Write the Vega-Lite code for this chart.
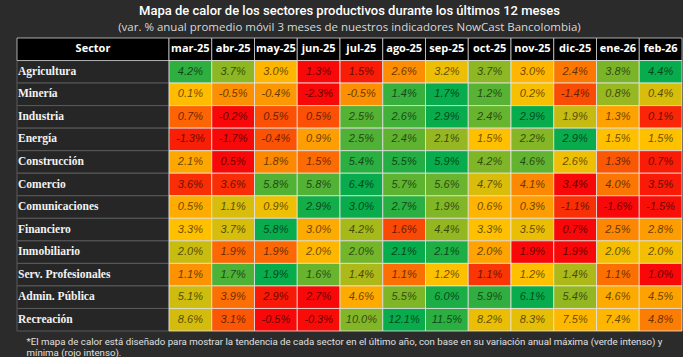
{
  "$schema": "https://vega.github.io/schema/vega-lite/v6.json",
  "background": "#2b2b2b",
  "padding": {"left": 16, "top": 5, "right": 0, "bottom": 0},
  "title": {
    "text": "Mapa de calor de los sectores productivos durante los últimos 12 meses",
    "subtitle": "(var. % anual promedio móvil 3 meses de nuestros indicadores NowCast Bancolombia)",
    "anchor": "middle",
    "font": "Roboto",
    "fontSize": 13,
    "fontWeight": 500,
    "color": "#ffffff",
    "subtitleFont": "Open Sans",
    "subtitleFontSize": 11.5,
    "subtitleColor": "#d9d9d9",
    "subtitlePadding": 4,
    "offset": 4
  },
  "datasets": {
    "head": [{"s": "Sector"}],
    "sectors": [
      {"s": "Agricultura"}, {"s": "Minería"}, {"s": "Industria"}, {"s": "Energía"},
      {"s": "Construcción"}, {"s": "Comercio"}, {"s": "Comunicaciones"}, {"s": "Financiero"},
      {"s": "Inmobiliario"}, {"s": "Serv. Profesionales"}, {"s": "Admin. Pública"}, {"s": "Recreación"}
    ],
    "months": [
      {"m": "mar-25", "s": "Sector"}, {"m": "abr-25", "s": "Sector"}, {"m": "may-25", "s": "Sector"},
      {"m": "jun-25", "s": "Sector"}, {"m": "jul-25", "s": "Sector"}, {"m": "ago-25", "s": "Sector"},
      {"m": "sep-25", "s": "Sector"}, {"m": "oct-25", "s": "Sector"}, {"m": "nov-25", "s": "Sector"},
      {"m": "dic-25", "s": "Sector"}, {"m": "ene-26", "s": "Sector"}, {"m": "feb-26", "s": "Sector"}
    ],
    "cells": [
      {"s": "Agricultura", "m": "mar-25", "v": 0.042}, {"s": "Agricultura", "m": "abr-25", "v": 0.037}, {"s": "Agricultura", "m": "may-25", "v": 0.030}, {"s": "Agricultura", "m": "jun-25", "v": 0.013}, {"s": "Agricultura", "m": "jul-25", "v": 0.015}, {"s": "Agricultura", "m": "ago-25", "v": 0.026}, {"s": "Agricultura", "m": "sep-25", "v": 0.032}, {"s": "Agricultura", "m": "oct-25", "v": 0.037}, {"s": "Agricultura", "m": "nov-25", "v": 0.030}, {"s": "Agricultura", "m": "dic-25", "v": 0.024}, {"s": "Agricultura", "m": "ene-26", "v": 0.038}, {"s": "Agricultura", "m": "feb-26", "v": 0.044},
      {"s": "Minería", "m": "mar-25", "v": 0.001}, {"s": "Minería", "m": "abr-25", "v": -0.005}, {"s": "Minería", "m": "may-25", "v": -0.004}, {"s": "Minería", "m": "jun-25", "v": -0.023}, {"s": "Minería", "m": "jul-25", "v": -0.005}, {"s": "Minería", "m": "ago-25", "v": 0.014}, {"s": "Minería", "m": "sep-25", "v": 0.017}, {"s": "Minería", "m": "oct-25", "v": 0.012}, {"s": "Minería", "m": "nov-25", "v": 0.002}, {"s": "Minería", "m": "dic-25", "v": -0.014}, {"s": "Minería", "m": "ene-26", "v": 0.008}, {"s": "Minería", "m": "feb-26", "v": 0.004},
      {"s": "Industria", "m": "mar-25", "v": 0.007}, {"s": "Industria", "m": "abr-25", "v": -0.002}, {"s": "Industria", "m": "may-25", "v": 0.005}, {"s": "Industria", "m": "jun-25", "v": 0.005}, {"s": "Industria", "m": "jul-25", "v": 0.025}, {"s": "Industria", "m": "ago-25", "v": 0.026}, {"s": "Industria", "m": "sep-25", "v": 0.029}, {"s": "Industria", "m": "oct-25", "v": 0.024}, {"s": "Industria", "m": "nov-25", "v": 0.029}, {"s": "Industria", "m": "dic-25", "v": 0.019}, {"s": "Industria", "m": "ene-26", "v": 0.013}, {"s": "Industria", "m": "feb-26", "v": 0.001},
      {"s": "Energía", "m": "mar-25", "v": -0.013}, {"s": "Energía", "m": "abr-25", "v": -0.017}, {"s": "Energía", "m": "may-25", "v": -0.004}, {"s": "Energía", "m": "jun-25", "v": 0.009}, {"s": "Energía", "m": "jul-25", "v": 0.025}, {"s": "Energía", "m": "ago-25", "v": 0.024}, {"s": "Energía", "m": "sep-25", "v": 0.021}, {"s": "Energía", "m": "oct-25", "v": 0.015}, {"s": "Energía", "m": "nov-25", "v": 0.022}, {"s": "Energía", "m": "dic-25", "v": 0.029}, {"s": "Energía", "m": "ene-26", "v": 0.015}, {"s": "Energía", "m": "feb-26", "v": 0.015},
      {"s": "Construcción", "m": "mar-25", "v": 0.021}, {"s": "Construcción", "m": "abr-25", "v": 0.005}, {"s": "Construcción", "m": "may-25", "v": 0.018}, {"s": "Construcción", "m": "jun-25", "v": 0.015}, {"s": "Construcción", "m": "jul-25", "v": 0.054}, {"s": "Construcción", "m": "ago-25", "v": 0.055}, {"s": "Construcción", "m": "sep-25", "v": 0.059}, {"s": "Construcción", "m": "oct-25", "v": 0.042}, {"s": "Construcción", "m": "nov-25", "v": 0.046}, {"s": "Construcción", "m": "dic-25", "v": 0.026}, {"s": "Construcción", "m": "ene-26", "v": 0.013}, {"s": "Construcción", "m": "feb-26", "v": 0.007},
      {"s": "Comercio", "m": "mar-25", "v": 0.036}, {"s": "Comercio", "m": "abr-25", "v": 0.036}, {"s": "Comercio", "m": "may-25", "v": 0.058}, {"s": "Comercio", "m": "jun-25", "v": 0.058}, {"s": "Comercio", "m": "jul-25", "v": 0.064}, {"s": "Comercio", "m": "ago-25", "v": 0.057}, {"s": "Comercio", "m": "sep-25", "v": 0.056}, {"s": "Comercio", "m": "oct-25", "v": 0.047}, {"s": "Comercio", "m": "nov-25", "v": 0.041}, {"s": "Comercio", "m": "dic-25", "v": 0.034}, {"s": "Comercio", "m": "ene-26", "v": 0.040}, {"s": "Comercio", "m": "feb-26", "v": 0.035},
      {"s": "Comunicaciones", "m": "mar-25", "v": 0.005}, {"s": "Comunicaciones", "m": "abr-25", "v": 0.011}, {"s": "Comunicaciones", "m": "may-25", "v": 0.009}, {"s": "Comunicaciones", "m": "jun-25", "v": 0.029}, {"s": "Comunicaciones", "m": "jul-25", "v": 0.030}, {"s": "Comunicaciones", "m": "ago-25", "v": 0.027}, {"s": "Comunicaciones", "m": "sep-25", "v": 0.019}, {"s": "Comunicaciones", "m": "oct-25", "v": 0.006}, {"s": "Comunicaciones", "m": "nov-25", "v": 0.003}, {"s": "Comunicaciones", "m": "dic-25", "v": -0.011}, {"s": "Comunicaciones", "m": "ene-26", "v": -0.016}, {"s": "Comunicaciones", "m": "feb-26", "v": -0.015},
      {"s": "Financiero", "m": "mar-25", "v": 0.033}, {"s": "Financiero", "m": "abr-25", "v": 0.037}, {"s": "Financiero", "m": "may-25", "v": 0.058}, {"s": "Financiero", "m": "jun-25", "v": 0.030}, {"s": "Financiero", "m": "jul-25", "v": 0.042}, {"s": "Financiero", "m": "ago-25", "v": 0.016}, {"s": "Financiero", "m": "sep-25", "v": 0.044}, {"s": "Financiero", "m": "oct-25", "v": 0.033}, {"s": "Financiero", "m": "nov-25", "v": 0.035}, {"s": "Financiero", "m": "dic-25", "v": 0.007}, {"s": "Financiero", "m": "ene-26", "v": 0.025}, {"s": "Financiero", "m": "feb-26", "v": 0.028},
      {"s": "Inmobiliario", "m": "mar-25", "v": 0.0200}, {"s": "Inmobiliario", "m": "abr-25", "v": 0.0193}, {"s": "Inmobiliario", "m": "may-25", "v": 0.0193}, {"s": "Inmobiliario", "m": "jun-25", "v": 0.0197}, {"s": "Inmobiliario", "m": "jul-25", "v": 0.0204}, {"s": "Inmobiliario", "m": "ago-25", "v": 0.0209}, {"s": "Inmobiliario", "m": "sep-25", "v": 0.0208}, {"s": "Inmobiliario", "m": "oct-25", "v": 0.0196}, {"s": "Inmobiliario", "m": "nov-25", "v": 0.0188}, {"s": "Inmobiliario", "m": "dic-25", "v": 0.0188}, {"s": "Inmobiliario", "m": "ene-26", "v": 0.0198}, {"s": "Inmobiliario", "m": "feb-26", "v": 0.0198},
      {"s": "Serv. Profesionales", "m": "mar-25", "v": 0.0114}, {"s": "Serv. Profesionales", "m": "abr-25", "v": 0.0170}, {"s": "Serv. Profesionales", "m": "may-25", "v": 0.0190}, {"s": "Serv. Profesionales", "m": "jun-25", "v": 0.0162}, {"s": "Serv. Profesionales", "m": "jul-25", "v": 0.0142}, {"s": "Serv. Profesionales", "m": "ago-25", "v": 0.0111}, {"s": "Serv. Profesionales", "m": "sep-25", "v": 0.0118}, {"s": "Serv. Profesionales", "m": "oct-25", "v": 0.0106}, {"s": "Serv. Profesionales", "m": "nov-25", "v": 0.0118}, {"s": "Serv. Profesionales", "m": "dic-25", "v": 0.0142}, {"s": "Serv. Profesionales", "m": "ene-26", "v": 0.0111}, {"s": "Serv. Profesionales", "m": "feb-26", "v": 0.0102},
      {"s": "Admin. Pública", "m": "mar-25", "v": 0.051}, {"s": "Admin. Pública", "m": "abr-25", "v": 0.039}, {"s": "Admin. Pública", "m": "may-25", "v": 0.029}, {"s": "Admin. Pública", "m": "jun-25", "v": 0.027}, {"s": "Admin. Pública", "m": "jul-25", "v": 0.046}, {"s": "Admin. Pública", "m": "ago-25", "v": 0.055}, {"s": "Admin. Pública", "m": "sep-25", "v": 0.060}, {"s": "Admin. Pública", "m": "oct-25", "v": 0.059}, {"s": "Admin. Pública", "m": "nov-25", "v": 0.061}, {"s": "Admin. Pública", "m": "dic-25", "v": 0.054}, {"s": "Admin. Pública", "m": "ene-26", "v": 0.046}, {"s": "Admin. Pública", "m": "feb-26", "v": 0.045},
      {"s": "Recreación", "m": "mar-25", "v": 0.086}, {"s": "Recreación", "m": "abr-25", "v": 0.031}, {"s": "Recreación", "m": "may-25", "v": -0.005}, {"s": "Recreación", "m": "jun-25", "v": -0.003}, {"s": "Recreación", "m": "jul-25", "v": 0.100}, {"s": "Recreación", "m": "ago-25", "v": 0.121}, {"s": "Recreación", "m": "sep-25", "v": 0.115}, {"s": "Recreación", "m": "oct-25", "v": 0.082}, {"s": "Recreación", "m": "nov-25", "v": 0.083}, {"s": "Recreación", "m": "dic-25", "v": 0.075}, {"s": "Recreación", "m": "ene-26", "v": 0.074}, {"s": "Recreación", "m": "feb-26", "v": 0.048}
    ]
  },
  "spacing": 0,
  "bounds": "flush",
  "resolve": {"scale": {"x": "independent", "y": "independent"}},
  "hconcat": [
    {
      "width": 152,
      "height": 293,
      "title": {
        "text": ["*El mapa de calor está diseñado para mostrar la tendencia de cada sector en el último año, con base en su variación anual máxima (verde intenso) y", "mínima (rojo intenso)."],
        "orient": "bottom",
        "anchor": "start",
        "font": "Roboto",
        "fontSize": 9.7,
        "fontWeight": "normal",
        "color": "#e0e0e0",
        "lineHeight": 11.5,
        "offset": 5,
        "dx": 10,
        "limit": 1000
      },
      "layer": [
        {
          "data": {"name": "sectors"},
          "mark": {"type": "rect", "fill": "#262626", "stroke": "#5a5a5a", "strokeWidth": 1},
          "encoding": {
            "y": {"field": "s", "type": "nominal", "axis": null, "sort": null,
                  "scale": {"domain": ["Sector", "Agricultura", "Minería", "Industria", "Energía", "Construcción", "Comercio", "Comunicaciones", "Financiero", "Inmobiliario", "Serv. Profesionales", "Admin. Pública", "Recreación"], "paddingInner": 0, "paddingOuter": 0}}
          }
        },
        {
          "data": {"name": "sectors"},
          "mark": {"type": "text", "align": "left", "dx": 1, "font": "Liberation Serif", "fontSize": 11.5, "fontWeight": "bold", "fill": "#f2f2f2"},
          "encoding": {
            "y": {"field": "s", "type": "nominal", "axis": null, "sort": null},
            "x": {"datum": 0, "type": "quantitative", "scale": {"domain": [0, 1]}, "axis": null},
            "text": {"field": "s"}
          }
        },
        {
          "data": {"name": "head"},
          "mark": {"type": "rect", "fill": "#000000", "stroke": "#d0d0d0", "strokeWidth": 0.8},
          "encoding": {
            "y": {"field": "s", "type": "nominal", "axis": null, "sort": null}
          }
        },
        {
          "data": {"name": "head"},
          "mark": {"type": "text", "font": "Open Sans", "fontSize": 11, "fontWeight": "bold", "fill": "#ffffff"},
          "encoding": {
            "y": {"field": "s", "type": "nominal", "axis": null, "sort": null},
            "x": {"datum": 0.5, "type": "quantitative", "scale": {"domain": [0, 1]}, "axis": null},
            "text": {"field": "s"}
          }
        }
      ]
    },
    {
      "width": 513,
      "height": 293,
      "encoding": {
        "x": {"field": "m", "type": "nominal", "axis": null, "sort": null,
              "scale": {"domain": ["mar-25", "abr-25", "may-25", "jun-25", "jul-25", "ago-25", "sep-25", "oct-25", "nov-25", "dic-25", "ene-26", "feb-26"], "paddingInner": 0, "paddingOuter": 0}},
        "y": {"field": "s", "type": "nominal", "axis": null, "sort": null,
              "scale": {"domain": ["Sector", "Agricultura", "Minería", "Industria", "Energía", "Construcción", "Comercio", "Comunicaciones", "Financiero", "Inmobiliario", "Serv. Profesionales", "Admin. Pública", "Recreación"], "paddingInner": 0, "paddingOuter": 0}}
      },
      "layer": [
        {
          "data": {"name": "months"},
          "mark": {"type": "rect", "fill": "#000000", "stroke": "#d0d0d0", "strokeWidth": 0.8}
        },
        {
          "data": {"name": "months"},
          "mark": {"type": "text", "font": "Open Sans", "fontSize": 11, "fontWeight": "bold", "fill": "#ffffff"},
          "encoding": {"text": {"field": "m"}}
        },
        {
          "data": {"name": "cells"},
          "transform": [
            {"joinaggregate": [
              {"op": "min", "field": "v", "as": "mn"},
              {"op": "max", "field": "v", "as": "mx"},
              {"op": "median", "field": "v", "as": "md"}
            ], "groupby": ["s"]},
            {"calculate": "datum.v <= datum.md ? 0.5 * (datum.v - datum.mn) / (datum.md - datum.mn) : 0.5 + 0.5 * (datum.v - datum.md) / (datum.mx - datum.md)", "as": "t"}
          ],
          "layer": [
            {
              "mark": {"type": "rect", "stroke": "#e6e6e6", "strokeWidth": 0.8},
              "encoding": {
                "color": {"field": "t", "type": "quantitative", "legend": null,
                          "scale": {"domain": [0, 0.5, 1], "range": ["#f80808", "#ffc000", "#08ac4c"], "interpolate": "rgb"}}
              }
            },
            {
              "mark": {"type": "text", "font": "Liberation Sans", "fontSize": 11, "fontStyle": "italic", "fill": "#000000", "opacity": 0.6},
              "encoding": {"text": {"field": "v", "type": "quantitative", "format": ".1%"}}
            }
          ]
        }
      ]
    }
  ],
  "config": {
    "view": {"stroke": null},
    "concat": {"spacing": 0},
    "locale": {"number": {"decimal": ".", "thousands": ",", "grouping": [3], "currency": ["$", ""], "minus": "-"}}
  }
}
